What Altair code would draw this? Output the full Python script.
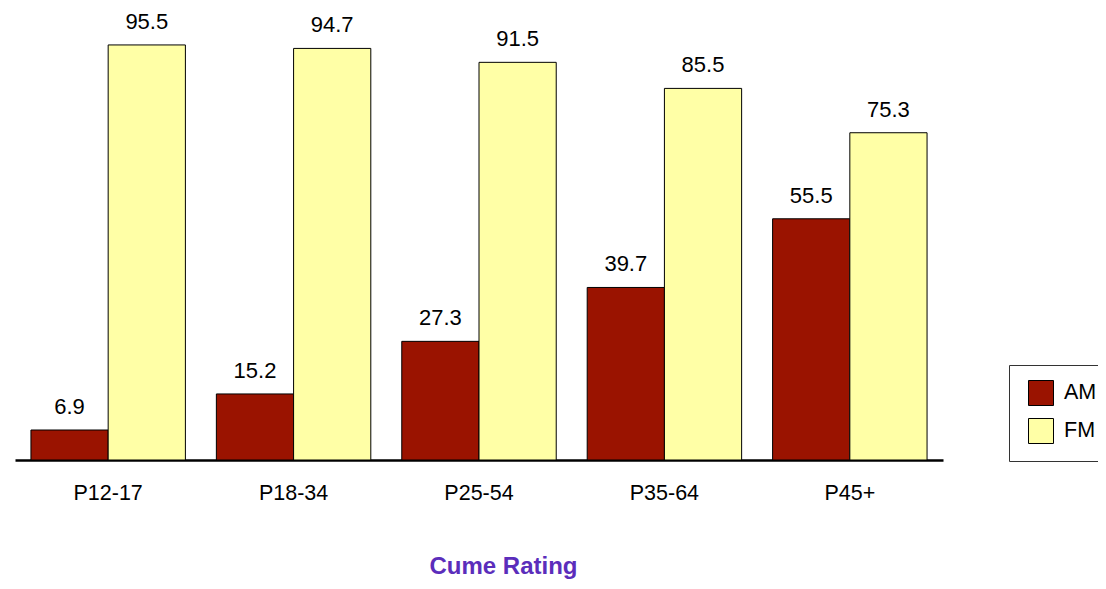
import altair as alt
import pandas as pd

categories = ["P12-17", "P18-34", "P25-54", "P35-64", "P45+"]
am_values = [6.9, 15.2, 27.3, 39.7, 55.5]
fm_values = [95.5, 94.7, 91.5, 85.5, 75.3]
series = ["AM", "FM"]
colors = ["#9a1300", "#ffffa6"]

rows = []
for c, a, f in zip(categories, am_values, fm_values):
    rows.append({"group": c, "band": "AM", "value": a, "label": f"{a:.1f}"})
    rows.append({"group": c, "band": "FM", "value": f, "label": f"{f:.1f}"})
df = pd.DataFrame(rows)

FONT = "Liberation Sans"

x = alt.X(
    "group:N",
    sort=categories,
    scale=alt.Scale(paddingInner=0.167, paddingOuter=0.086),
    axis=alt.Axis(
        title="Cume Rating",
        titleFont=FONT,
        titleFontSize=24,
        titleFontWeight="bold",
        titleColor="#5b2dbb",
        titlePadding=51,
        titleX=488,
        titleAlign="center",
        labelFont=FONT,
        labelFontSize=21.5,
        labelColor="#000000",
        labelPadding=22,
        labelAngle=0,
        ticks=False,
        domainColor="#000000",
        domainWidth=2.5,
        grid=False,
    ),
)
xo = alt.XOffset("band:N", sort=series, scale=alt.Scale(paddingInner=0, paddingOuter=0))
y = alt.Y("value:Q", scale=alt.Scale(domain=[0, 102.85], nice=False, zero=True), axis=None)

bars = alt.Chart(df).mark_bar(stroke="#000000", strokeWidth=1).encode(
    x=x,
    xOffset=xo,
    y=y,
    color=alt.Color(
        "band:N",
        sort=series,
        scale=alt.Scale(domain=series, range=colors),
        legend=alt.Legend(
            title=None,
            orient="none",
            legendX=994,
            legendY=352,
            symbolType="square",
            symbolSize=625,
            symbolOffset=4,
            symbolStrokeColor="#000000",
            symbolStrokeWidth=1,
            labelFont=FONT,
            labelFontSize=21.5,
            labelColor="#000000",
            labelOffset=10,
            rowPadding=8,
            padding=15,
            strokeColor="#333333",
            fillColor="#ffffff",
        ),
    ),
)

texts = alt.Chart(df).mark_text(
    font=FONT, fontSize=22, color="#000000", baseline="alphabetic", dy=-16
).encode(x=x, xOffset=xo, y=y, text="label:N")

chart = (
    alt.layer(bars, texts)
    .properties(
        width=928,
        height=447,
        autosize=alt.AutoSizeParams(type="none"),
        padding={"left": 7, "top": 5, "right": 155, "bottom": 121},
    )
    .configure_view(stroke=None, clip=False)
)

chart.save("out.html", embed_options={"renderer": "svg", "actions": False})
